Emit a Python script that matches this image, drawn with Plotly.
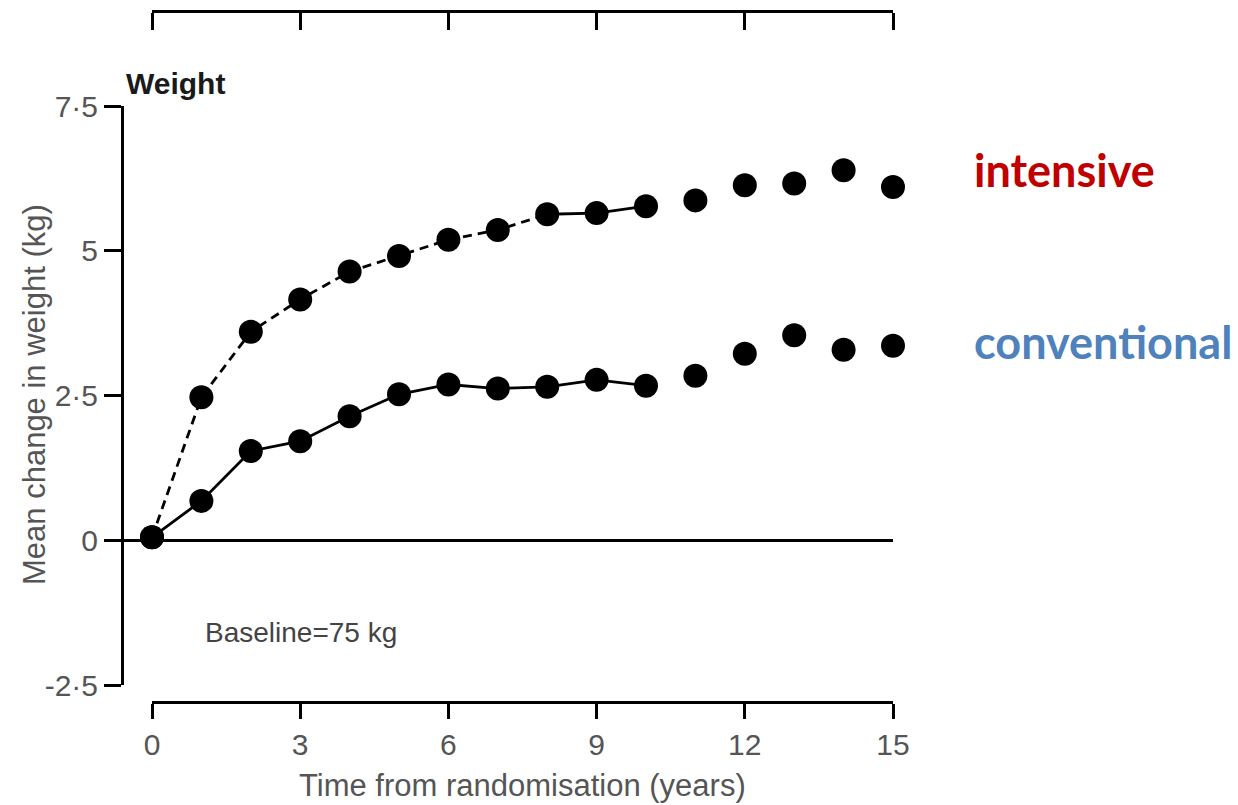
import plotly.graph_objects as go

# Follow-up years and mean change in weight (kg) for each arm
years = list(range(0, 16))
intensive = [0.05, 2.47, 3.60, 4.16, 4.64, 4.91, 5.19, 5.36, 5.63, 5.65,
             5.77, 5.87, 6.13, 6.16, 6.39, 6.10]
conventional = [0.05, 0.68, 1.54, 1.71, 2.14, 2.52, 2.69, 2.62, 2.65, 2.77,
                2.67, 2.84, 3.22, 3.54, 3.29, 3.36]

# Years covered by the connecting curves
dashed_end = 8      # intensive curve is dashed up to this year
curve_end = 10      # both curves stop here

x_ticks = [0, 3, 6, 9, 12, 15]
y_ticks = [-2.5, 0, 2.5, 5, 7.5]
y_tick_text = ["-2·5", "0", "2·5", "5", "7·5"]

W, H = 1238, 805
X_LEFT, X_RIGHT = 152, 893     # pixel span of years 0..15
Y_AXIS_PX = 124                # y axis sits a little left of year 0
PX_PER_YEAR = (X_RIGHT - X_LEFT) / 15


def fx(px):
    return px / W


def fy(py):
    return 1 - py / H


TEXT_FONT = "Liberation Sans, Arial, sans-serif"
GREY = "#555555"

fig = go.Figure()

# intensive curve: dashed then solid
fig.add_trace(go.Scatter(
    x=years[:dashed_end + 1], y=intensive[:dashed_end + 1],
    mode="lines", line=dict(color="black", width=2.8, dash="9px,6px"),
    cliponaxis=False, hoverinfo="skip"))
fig.add_trace(go.Scatter(
    x=years[dashed_end:curve_end + 1], y=intensive[dashed_end:curve_end + 1],
    mode="lines", line=dict(color="black", width=2.8),
    cliponaxis=False, hoverinfo="skip"))
# conventional curve: solid
fig.add_trace(go.Scatter(
    x=years[:curve_end + 1], y=conventional[:curve_end + 1],
    mode="lines", line=dict(color="black", width=2.8),
    cliponaxis=False, hoverinfo="skip"))

# yearly means
for series in (intensive, conventional):
    fig.add_trace(go.Scatter(
        x=years, y=series, mode="markers",
        marker=dict(color="black", size=24, line=dict(width=0)),
        cliponaxis=False))

# empty carriers so the detached bottom and top time axes are drawn
for ax in ("x2", "x3"):
    fig.add_trace(go.Scatter(x=[], y=[], xaxis=ax, yaxis="y",
                             hoverinfo="skip"))

axis_common = dict(showgrid=False, zeroline=False, linecolor="black",
                   linewidth=3, tickcolor="black", tickwidth=3,
                   automargin=False)

fig.update_layout(
    width=W, height=H,
    margin=dict(l=0, r=0, t=0, b=0, pad=0, autoexpand=False),
    paper_bgcolor="white", plot_bgcolor="rgba(0,0,0,0)",
    showlegend=False,
    font=dict(family=TEXT_FONT, color=GREY),
    # data frame: starts at the y axis, year 0 sits slightly inside
    xaxis=dict(domain=[fx(Y_AXIS_PX), fx(X_RIGHT)],
               range=[-(X_LEFT - Y_AXIS_PX) / PX_PER_YEAR, 15],
               anchor="y", showline=False, showticklabels=False, ticks="",
               showgrid=False, zeroline=False, automargin=False),
    # bottom time axis
    xaxis2=dict(domain=[fx(X_LEFT), fx(X_RIGHT)], range=[0, 15],
                anchor="free", position=fy(702), side="bottom",
                showline=True, ticks="outside", ticklen=15, tickvals=x_ticks,
                ticktext=[str(v) for v in x_ticks],
                tickfont=dict(size=30, color=GREY, family=TEXT_FONT),
                ticklabelstandoff=0, **axis_common),
    # top axis line
    xaxis3=dict(domain=[fx(X_LEFT), fx(X_RIGHT)], range=[0, 15],
                anchor="free", position=fy(11), side="bottom",
                showline=True, ticks="outside", ticklen=17, tickvals=x_ticks,
                showticklabels=False, **axis_common),
    yaxis=dict(domain=[fy(685), fy(106)], range=[-2.5, 7.5], anchor="x",
               showline=True, ticks="outside", ticklen=17,
               tickvals=y_ticks, ticktext=y_tick_text,
               tickfont=dict(size=30, color=GREY, family=TEXT_FONT),
               showgrid=False, zeroline=True, zerolinecolor="black",
               zerolinewidth=3, linecolor="black", linewidth=3,
               tickcolor="black", tickwidth=3, automargin=False),
)

annotations = [
    dict(text="<b>Weight</b>", x=fx(124), y=fy(83), xanchor="left",
         yanchor="middle", font=dict(size=30, color="#1a1a1a")),
    dict(text="Baseline=75 kg", x=fx(203), y=fy(632), xanchor="left",
         yanchor="middle", font=dict(size=28, color="#444444")),
    dict(text="Time from randomisation (years)", x=fx(522), y=fy(785),
         xanchor="center", yanchor="middle", font=dict(size=31, color=GREY)),
    dict(text="Mean change in weight (kg)", x=fx(35), y=fy(395),
         xanchor="center", yanchor="middle", textangle=-90,
         font=dict(size=31, color=GREY)),
    dict(text="<b>intensive</b>", x=fx(972), y=fy(170), xanchor="left",
         yanchor="middle",
         font=dict(size=45, color="#C00000", family="Lato, Noto Sans, sans-serif")),
    dict(text="<b>conventional</b>", x=fx(972), y=fy(342), xanchor="left",
         yanchor="middle",
         font=dict(size=45, color="#4F81BD", family="Lato, Noto Sans, sans-serif")),
]
for a in annotations:
    a.update(xref="paper", yref="paper", showarrow=False)
fig.update_layout(annotations=annotations)

fig.write_html("out.html")
